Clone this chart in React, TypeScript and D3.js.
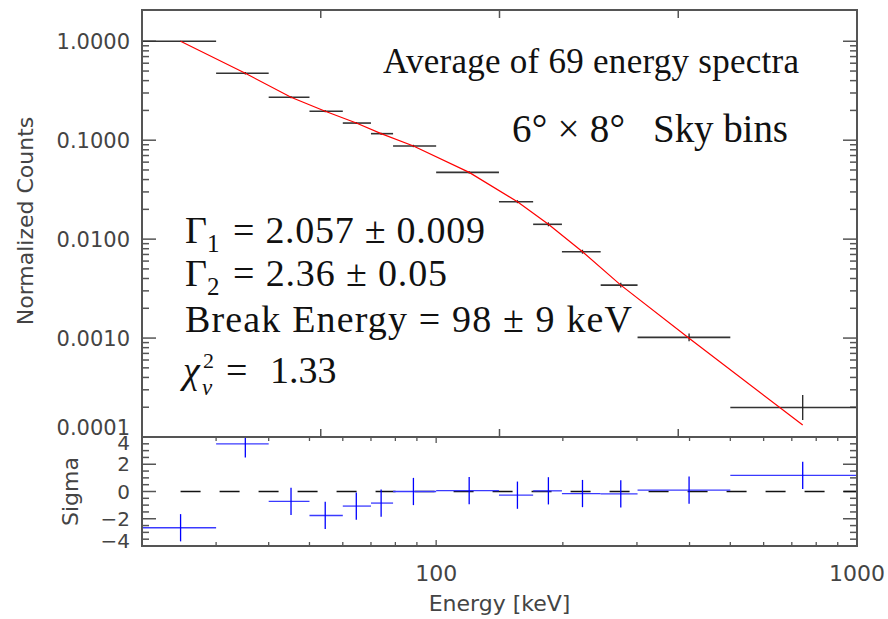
import { useEffect, useRef } from "react";
import * as d3 from "d3";

// energy bins [keV]
const binLo = [20, 30, 40, 50, 60, 70, 79, 100, 141, 170, 199, 246, 301, 500];
const binHi = [30, 40, 50, 60, 70, 79, 100, 141, 170, 199, 246, 301, 500, 1000];
const binCenter = [24.7, 35.2, 45.2, 54.5, 64.6, 74.0, 88.3, 119.8, 156, 184.8, 222.7, 274.6, 399, 743];

// normalized counts per bin
const counts = [1.0, 0.4746, 0.2715, 0.196, 0.149, 0.1164, 0.0874, 0.0473, 0.0239, 0.01412, 0.00746, 0.00343, 0.001016, 0.000199];
const countsErrDex = [0.004, 0.012, 0.01, 0.01, 0.01, 0.01, 0.012, 0.012, 0.015, 0.02, 0.02, 0.023, 0.04, 0.126];
const modelCounts = [1.0, 0.4746, 0.2715, 0.196, 0.149, 0.1164, 0.0874, 0.0473, 0.0239, 0.01412, 0.00746, 0.00343, 0.000995, 0.000132];

// residuals
const sigma = [-2.66, 3.49, -0.73, -1.76, -1.07, -0.85, 0.0, 0.07, -0.27, 0.05, -0.15, -0.17, 0.1, 1.19];
const sigmaErr = [1, 1, 1, 1, 1, 1, 1, 1, 1, 1, 1, 1, 1, 1];

// tick labels
const countTicks = [1, 0.1, 0.01, 0.001, 0.0001];
const sigmaTicks = [4, 2, 0, -2, -4];
const energyTicks = [100, 1000];

export default function App() {
    const svgRef = useRef<SVGSVGElement>(null);

    useEffect(() => {
        const W = 888;
        const margin = { top: 10, right: 31, bottom: 73, left: 142 };
        const width = W - margin.left - margin.right;
        const topH = 427;
        const botH = 109;
        const frame = "#555";
        const labelFont = "'DejaVu Sans', sans-serif";
        const serif = "'Liberation Serif', 'Times New Roman', serif";

        const svg = d3.select(svgRef.current);
        svg.selectAll("*").remove();

        const x = d3.scaleLog().domain([20, 1000]).range([0, width]);
        const yTop = d3.scaleLog().domain([1e-4, 2.07]).range([topH, 0]);
        const ySig = d3.scaleLinear().domain([-4, 4]).range([botH, 0]);

        svg.append("defs")
            .append("clipPath")
            .attr("id", "sigclip")
            .append("rect")
            .attr("width", width)
            .attr("height", botH);

        const top = svg
            .append("g")
            .attr("transform", `translate(${margin.left},${margin.top})`);
        const bot = svg
            .append("g")
            .attr("transform", `translate(${margin.left},${margin.top + topH})`);

        // ---- top panel: y ticks (log) ----
        var minorCounts: number[] = [];
        for (let d = -4; d <= 0; d++) {
            for (let m = 2; m <= 9; m++) {
                const v = m * Math.pow(10, d);
                if (v < 1.99) minorCounts.push(v);
            }
        }
        const drawYTicks = (g: any, scale: any, vals: number[], len: number) => {
            vals.forEach((v) => {
                const yy = scale(v);
                g.append("line").attr("x1", 0).attr("x2", len).attr("y1", yy).attr("y2", yy)
                    .attr("stroke", frame).attr("stroke-width", 1.5);
                g.append("line").attr("x1", width).attr("x2", width - len).attr("y1", yy).attr("y2", yy)
                    .attr("stroke", frame).attr("stroke-width", 1.5);
            });
        };
        drawYTicks(top, yTop, countTicks, 14);
        drawYTicks(top, yTop, minorCounts, 7);

        top.selectAll(".ylab")
            .data(countTicks)
            .enter()
            .append("text")
            .attr("x", -12)
            .attr("y", (d) => yTop(d) + (d === 0.0001 ? -10 : 0))
            .attr("dy", "0.36em")
            .attr("text-anchor", "end")
            .style("font-family", labelFont)
            .style("font-size", "21px")
            .attr("fill", "#444")
            .text((d) => d3.format(".4f")(d));

        // top panel x ticks: 4 equal log intervals, no labels
        const quarter = [0.25, 0.5, 0.75].map((f) => x.invert(f * width));
        quarter.forEach((e) => {
            top.append("line").attr("x1", x(e)).attr("x2", x(e)).attr("y1", 0).attr("y2", 8)
                .attr("stroke", frame).attr("stroke-width", 1.5);
            top.append("line").attr("x1", x(e)).attr("x2", x(e)).attr("y1", topH).attr("y2", topH - 8)
                .attr("stroke", frame).attr("stroke-width", 1.5);
        });

        // ---- top panel data ----
        const bins = binLo.map((lo, i) => ({
            lo,
            hi: binHi[i],
            c: binCenter[i],
            v: counts[i],
            e: countsErrDex[i],
            s: sigma[i],
            se: sigmaErr[i],
        }));

        const dataG = top.append("g");
        dataG.selectAll(".hbar")
            .data(bins)
            .enter()
            .append("line")
            .attr("x1", (d) => x(d.lo))
            .attr("x2", (d) => x(d.hi))
            .attr("y1", (d) => yTop(d.v))
            .attr("y2", (d) => yTop(d.v))
            .attr("stroke", "#333")
            .attr("stroke-width", 1.6);
        dataG.selectAll(".vbar")
            .data(bins)
            .enter()
            .append("line")
            .attr("x1", (d) => x(d.c))
            .attr("x2", (d) => x(d.c))
            .attr("y1", (d) => yTop(d.v * Math.pow(10, d.e)))
            .attr("y2", (d) => yTop(d.v / Math.pow(10, d.e)))
            .attr("stroke", "#222")
            .attr("stroke-width", 1.3);

        const model = d3
            .line<number>()
            .x((d, i) => x(binCenter[i]))
            .y((d) => yTop(d));
        top.append("path")
            .datum(modelCounts)
            .attr("d", model)
            .attr("fill", "none")
            .attr("stroke", "#ff0000")
            .attr("stroke-width", 1.2);

        top.append("rect")
            .attr("width", width)
            .attr("height", topH)
            .attr("fill", "none")
            .attr("stroke", frame)
            .attr("stroke-width", 2);

        // ---- annotations ----
        const note = (tx: number, ty: number, size: number, txt: string, len?: number, italic?: boolean) => {
            const t = top.append("text")
                .attr("x", tx - margin.left)
                .attr("y", ty - margin.top)
                .style("font-family", serif)
                .style("font-size", size + "px")
                .style("font-style", italic ? "italic" : "normal")
                .attr("fill", "#111")
                .text(txt);
            if (len) t.attr("textLength", len).attr("lengthAdjust", "spacing");
            return t;
        };
        note(383, 73, 35, "Average of 69 energy spectra", 416);
        note(512, 142, 39, "6° × 8°", 113);
        note(653, 142, 39, "Sky bins", 135);

        const fitLines = [
            { sub: "1", rest: "= 2.057 ± 0.009", y: 243, len: 252 },
            { sub: "2", rest: "= 2.36 ± 0.05", y: 286, len: 214 },
        ];
        fitLines.forEach((l) => {
            const t = note(185, l.y, 38, "Γ");
            t.append("tspan").attr("dy", 9).style("font-size", "25px").text(l.sub);
            note(233, l.y, 38, l.rest, l.len);
        });
        note(185, 332, 38, "Break Energy = 98 ± 9 keV", 447);
        note(183, 383, 38, "χ", undefined, true);
        note(203, 368, 22, "2");
        note(202, 395, 23, "ν", undefined, true);
        note(226, 383, 38, "=");
        note(270, 383, 38, "1.33");

        // ---- bottom panel ----
        const sigMinor = d3.range(-4, 4.01, 0.5).filter((v) => v % 2 !== 0);
        drawYTicks(bot, ySig, sigmaTicks, 14);
        drawYTicks(bot, ySig, sigMinor, 7);

        bot.selectAll(".slab")
            .data(sigmaTicks)
            .enter()
            .append("text")
            .attr("x", -12)
            .attr("y", (d) => ySig(d) + (d === 4 ? 6 : d === -4 ? -5 : 0))
            .attr("dy", "0.36em")
            .attr("text-anchor", "end")
            .style("font-family", labelFont)
            .style("font-size", "20px")
            .attr("fill", "#444")
            .text((d) => (d < 0 ? "\u2212" + Math.abs(d) : String(d)));

        const logTicks = x.ticks().filter((v) => v > 20 && v < 1000);
        logTicks.forEach((e) => {
            const len = energyTicks.includes(e) ? 6 : 4;
            bot.append("line").attr("x1", x(e)).attr("x2", x(e)).attr("y1", botH).attr("y2", botH - len)
                .attr("stroke", frame).attr("stroke-width", 1.3);
            bot.append("line").attr("x1", x(e)).attr("x2", x(e)).attr("y1", 0).attr("y2", len)
                .attr("stroke", frame).attr("stroke-width", 1.3);
        });

        bot.selectAll(".xlab")
            .data(energyTicks)
            .enter()
            .append("text")
            .attr("x", (d) => x(d))
            .attr("y", botH + 35)
            .attr("text-anchor", "middle")
            .style("font-family", labelFont)
            .style("font-size", "22px")
            .attr("fill", "#444")
            .text((d) => String(d));

        const sigG = bot.append("g").attr("clip-path", "url(#sigclip)");
        sigG.append("line")
            .attr("x1", x(binCenter[0]))
            .attr("x2", width)
            .attr("y1", ySig(0))
            .attr("y2", ySig(0))
            .attr("stroke", "#111")
            .attr("stroke-width", 1.3)
            .attr("stroke-dasharray", "20,19");
        sigG.selectAll(".shbar")
            .data(bins)
            .enter()
            .append("line")
            .attr("x1", (d) => x(d.lo))
            .attr("x2", (d) => x(d.hi))
            .attr("y1", (d) => ySig(d.s))
            .attr("y2", (d) => ySig(d.s))
            .attr("stroke", "#3a3aff")
            .attr("stroke-width", 1.3);
        sigG.selectAll(".svbar")
            .data(bins)
            .enter()
            .append("line")
            .attr("x1", (d) => x(d.c))
            .attr("x2", (d) => x(d.c))
            .attr("y1", (d) => ySig(d.s + d.se))
            .attr("y2", (d) => ySig(d.s - d.se))
            .attr("stroke", "#0000ff")
            .attr("stroke-width", 1.3);

        bot.append("rect")
            .attr("width", width)
            .attr("height", botH)
            .attr("fill", "none")
            .attr("stroke", frame)
            .attr("stroke-width", 2);

        // axis titles
        svg.append("text")
            .attr("transform", `translate(33,${margin.top + 211}) rotate(-90)`)
            .attr("text-anchor", "middle")
            .style("font-family", labelFont)
            .style("font-size", "22px")
            .attr("fill", "#444")
            .text("Normalized Counts");
        svg.append("text")
            .attr("transform", `translate(78,${margin.top + topH + botH / 2}) rotate(-90)`)
            .attr("text-anchor", "middle")
            .style("font-family", labelFont)
            .style("font-size", "22px")
            .attr("fill", "#444")
            .text("Sigma");
        svg.append("text")
            .attr("x", margin.left + width / 2)
            .attr("y", 611)
            .attr("text-anchor", "middle")
            .style("font-family", labelFont)
            .style("font-size", "22px")
            .attr("fill", "#444")
            .text("Energy [keV]");
    }, []);

    return (
        <svg
            ref={svgRef}
            width={888}
            height={619}
            style={{ position: "absolute", left: 0, top: 0, background: "#fff" }}
        />
    );
}
